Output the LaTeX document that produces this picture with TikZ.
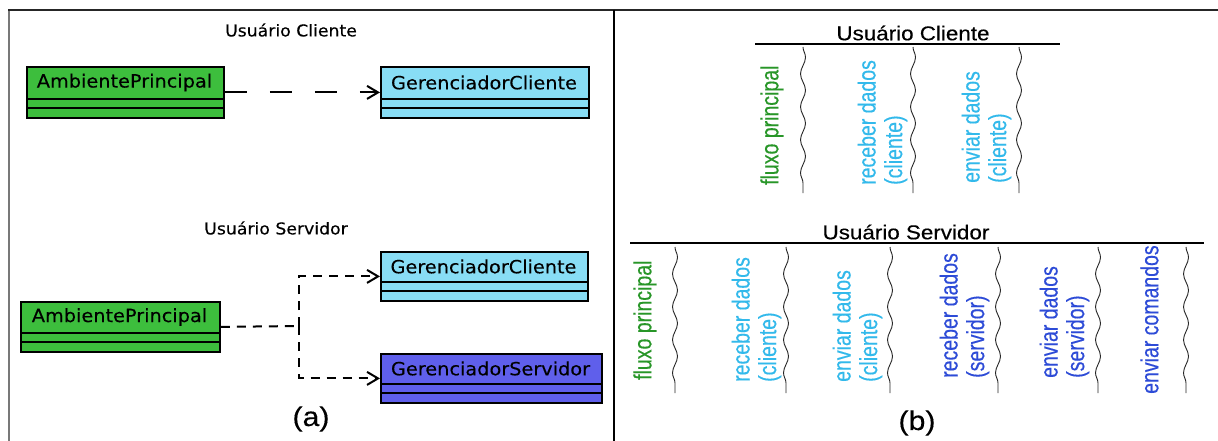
\documentclass[tikz,border=0pt]{standalone}
\usepackage{fontspec}
\usetikzlibrary{arrows.meta,decorations.pathmorphing}

% fonts: UML boxes in DejaVu Sans, thread diagram in Liberation Sans
\newfontfamily\umlfont[FakeStretch=1.06,FakeBold=0.2]{DejaVu Sans}
\newfontfamily\capfont[FakeStretch=1.12,FakeBold=0.3]{Liberation Sans}
\newfontfamily\threadfont[FakeBold=0.35]{Liberation Sans}

\definecolor{ambgreen}{RGB}{61,190,61}
\definecolor{cliblue}{RGB}{136,221,245}
\definecolor{srvblue}{RGB}{95,95,235}
\definecolor{txtgreen}{RGB}{40,150,40}
\definecolor{txtcyan}{RGB}{50,185,235}
\definecolor{txtblue}{RGB}{45,75,215}
\definecolor{framegray}{RGB}{120,120,120}

% rotated thread label: widened across the text direction
\newcommand\stretchy[1]{\scalebox{1}[1.27]{\begin{tabular}{@{}l@{}}#1\end{tabular}}}

% UML class: name, x, y, width, header height, fill, title
\newcommand\umlclass[7]{%
  \node[classbox, fill=#6, minimum width=#4pt, minimum height=#5pt+18pt] (#1) at (#2,#3) {};
  \path (#1.north west) ++(#4/2,#5/2) node[classtitle] {#7};
  \draw[classsep] (#1.north west) ++(0,#5) -- ++(#4,0);
  \draw[classsep] (#1.north west) ++(0,#5+9) -- ++(#4,0);
}

\tikzset{
  classbox/.style={draw=black, line width=1.8pt, inner sep=0pt, anchor=north west},
  classtitle/.style={font=\umlfont\fontsize{18.2}{21}\selectfont, inner sep=0pt},
  classsep/.style={line width=1.8pt},
  umltitle/.style={font=\umlfont\fontsize{16.3}{19}\selectfont},
  longdep/.style={line width=2pt, dash pattern=on 22pt off 23pt,
    -{Straight Barb[length=11pt,width=13pt,line width=2pt]}},
  shortdep/.style={line width=2pt, dash pattern=on 9pt off 7pt},
  shortdeparrow/.style={shortdep, -{Straight Barb[length=11pt,width=13pt,line width=2pt]}},
  threadtitle/.style={font=\capfont\fontsize{20}{24}\selectfont},
  rule/.style={line width=1.5pt},
  wave/.style={line width=0.9pt, black!85, decorate,
    decoration={snake, segment length=33pt, amplitude=2.5pt}},
  thread/.style={rotate=90, anchor=west, inner sep=0pt,
    font=\threadfont\fontsize{19.5}{21}\selectfont},
  caption/.style={font=\capfont\fontsize{27}{30}\selectfont},
}

\begin{document}
\begin{tikzpicture}[x=1pt,y=-1pt]
\useasboundingbox (0,0) rectangle (1218,441);
\fill[white] (0,0) rectangle (1218,441);

% frame and divider
\draw[framegray, line width=2.5pt] (9,441) -- (9,10);
\draw[black!85, line width=2pt] (8,10) -- (1218,10);
\draw[black, line width=2pt] (614,10) -- (614,441);

% ---------- (a) class diagrams ----------
\node[umltitle] (tcli) at (291,30) {Usuário Cliente};
\umlclass{ap1}{26}{66}{197}{33}{ambgreen}{AmbientePrincipal}
\umlclass{gc1}{380}{66}{208}{33}{cliblue}{GerenciadorCliente}
\draw[longdep] (ap1.east) -- (gc1.west);

\node[umltitle] (tsrv) at (276,228) {Usuário Servidor};
\umlclass{gc2}{380}{251}{207}{31}{cliblue}{GerenciadorCliente}
\umlclass{ap2}{20}{301}{199}{32}{ambgreen}{AmbientePrincipal}
\umlclass{gs}{380}{353}{221}{31}{srvblue}{GerenciadorServidor}
\coordinate (fork) at (299,326);
\draw[shortdep] (ap2.east) -- (fork);
\draw[shortdeparrow] (fork) |- (gc2.west);
\draw[shortdeparrow] (fork) |- (gs.west);

\node[caption] (capa) at (311,419) {(a)};

% ---------- (b) threads ----------
\node[threadtitle] (bcli) at (913,33) {Usuário Cliente};
\draw[rule] (755,44) -- (1060,44);
\foreach \x in {803,913,1019} \draw[wave] (\x,47) -- (\x,193);
\node[thread, text=txtgreen] (c1) at (773,185) {\stretchy{fluxo principal}};
\node[thread, text=txtcyan] (c2) at (883.5,185) {\stretchy{receber dados\\(cliente)}};
\node[thread, text=txtcyan] (c3) at (987.5,183) {\stretchy{enviar dados\\(cliente)}};

\node[threadtitle] (bsrv) at (906,232) {Usuário Servidor};
\draw[rule] (630,243) -- (1204,243);
\foreach \x in {675,786,890,998,1098,1186} \draw[wave] (\x,247) -- (\x,393);
\node[thread, text=txtgreen] (s1) at (646,380) {\stretchy{fluxo principal}};
\node[thread, text=txtcyan] (s2) at (757.5,382) {\stretchy{receber dados\\(cliente)}};
\node[thread, text=txtcyan] (s3) at (858.5,382) {\stretchy{enviar dados\\(cliente)}};
\node[thread, text=txtblue] (s4) at (965.5,378) {\stretchy{receber dados\\(servidor)}};
\node[thread, text=txtblue] (s5) at (1065.5,378) {\stretchy{enviar dados\\(servidor)}};
\node[thread, text=txtblue] (s6) at (1153,394) {\stretchy{enviar comandos}};

\node[caption] (capb) at (917,423) {(b)};
\end{tikzpicture}
\end{document}
